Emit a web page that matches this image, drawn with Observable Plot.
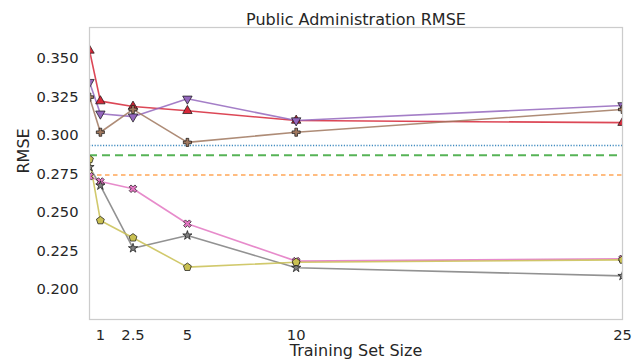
<!DOCTYPE html>
<html>
<head>
<meta charset="utf-8">
<script src="https://cdn.jsdelivr.net/npm/d3@7"></script>
<script src="https://cdn.jsdelivr.net/npm/@observablehq/plot@0.6"></script>
<style>
  html, body { margin: 0; padding: 0; background: #ffffff; }
</style>
</head>
<body>
<div id="chart"></div>
<script>
// Training set sizes (x positions of every model curve)
const trainingSizes = [0.5, 1, 2.5, 5, 10, 25];
const xTicks = [1, 2.5, 5, 10, 25];
const yTicks = [0.200, 0.225, 0.250, 0.275, 0.300, 0.325, 0.350];

// RMSE of each model per training set size
const rmseRed    = [0.3552, 0.3223, 0.3188, 0.3160, 0.3097, 0.3083];
const rmsePurple = [0.3346, 0.3141, 0.3122, 0.3238, 0.3097, 0.3195];
const rmseBrown  = [0.3249, 0.3021, 0.3169, 0.2955, 0.3021, 0.3169];
const rmsePink   = [0.2735, 0.2701, 0.2654, 0.2427, 0.2184, 0.2199];
const rmseGray   = [0.2795, 0.2675, 0.2268, 0.2351, 0.2141, 0.2088];
const rmseOlive  = [0.2845, 0.2448, 0.2336, 0.2145, 0.2177, 0.2192];

// Constant reference levels drawn as horizontal lines
const baselineBlue   = 0.2935;
const baselineGreen  = 0.2871;
const baselineOrange = 0.2743;

const titleText = "Public Administration RMSE";
const xLabel = "Training Set Size";
const yLabel = "RMSE";

// --- custom marker shapes -------------------------------------------------
const sqrt3 = Math.sqrt(3);
const triangleDown = {
  draw(ctx, size) {
    const y = -Math.sqrt(size / (sqrt3 * 3));
    ctx.moveTo(0, -y * 2);
    ctx.lineTo(-sqrt3 * y, y);
    ctx.lineTo(sqrt3 * y, y);
    ctx.closePath();
  }
};
const filledX = {
  draw(ctx, size) {
    const r = Math.sqrt(size / 5) / 2;
    const pts = [[-3*r,-r],[-r,-r],[-r,-3*r],[r,-3*r],[r,-r],[3*r,-r],
                 [3*r,r],[r,r],[r,3*r],[-r,3*r],[-r,r],[-3*r,r]];
    const c = Math.SQRT1_2;
    pts.forEach(([px, py], i) => {
      const qx = px * c - py * c, qy = px * c + py * c;
      if (i === 0) ctx.moveTo(qx, qy); else ctx.lineTo(qx, qy);
    });
    ctx.closePath();
  }
};
const pentagon = {
  draw(ctx, size) {
    const R = Math.sqrt(size / (2.5 * Math.sin(2 * Math.PI / 5)));
    for (let i = 0; i < 5; i++) {
      const a = -Math.PI / 2 + i * 2 * Math.PI / 5;
      const px = R * Math.cos(a), py = R * Math.sin(a);
      if (i === 0) ctx.moveTo(px, py); else ctx.lineTo(px, py);
    }
    ctx.closePath();
  }
};

const series = [
  {values: rmseRed,    color: "#d62738", symbol: "triangle",  r: 3.5},
  {values: rmsePurple, color: "#9467bd", symbol: triangleDown, r: 3.5},
  {values: rmseBrown,  color: "#a0785f", symbol: "cross",      r: 3.4},
  {values: rmsePink,   color: "#e377c2", symbol: filledX,      r: 3.4},
  {values: rmseGray,   color: "#7f7f7f", symbol: "star",       r: 2.9},
  {values: rmseOlive,  color: "#c9c052", symbol: pentagon,     r: 3.6}
];

const marks = [];

// horizontal reference levels
marks.push(Plot.ruleY([baselineBlue],   {stroke: "#1f77b4", strokeWidth: 1.5, strokeDasharray: "1.2,1.6", strokeOpacity: 0.85}));
marks.push(Plot.ruleY([baselineGreen],  {stroke: "#2ca02c", strokeWidth: 2,   strokeDasharray: "8,5",     strokeOpacity: 0.8}));
marks.push(Plot.ruleY([baselineOrange], {stroke: "#ff7f0e", strokeWidth: 1.5, strokeDasharray: "4.5,3.5", strokeOpacity: 0.7}));

// model curves with markers
for (const s of series) {
  const rows = trainingSizes.map((x, i) => ({x, y: s.values[i]}));
  marks.push(Plot.line(rows, {x: "x", y: "y", stroke: s.color, strokeWidth: 1.6, strokeOpacity: 0.85, clip: true}));
}
for (const s of series) {
  const rows = trainingSizes.map((x, i) => ({x, y: s.values[i]}));
  marks.push(Plot.dot(rows, {x: "x", y: "y", symbol: s.symbol, r: s.r, fill: s.color,
                             stroke: "#111", strokeWidth: 0.7, clip: true}));
}

marks.push(Plot.frame({stroke: "#cccccc", strokeWidth: 1.25}));

marks.push(Plot.axisX({ticks: xTicks, tickSize: 0, tickPadding: 10, tickFormat: d => String(d),
                       label: null, fontSize: 14.7}));
marks.push(Plot.axisY({ticks: yTicks, tickSize: 0, tickPadding: 11, tickFormat: d3.format(".3f"),
                       label: null, fontSize: 14.7}));

marks.push(Plot.text([titleText], {text: d => d, frameAnchor: "top", dy: -14, fontSize: 16}));
marks.push(Plot.text([xLabel], {text: d => d, frameAnchor: "bottom", dy: 36.5, fontSize: 16}));
marks.push(Plot.text([yLabel], {text: d => d, frameAnchor: "left", dx: -65.5, rotate: -90, fontSize: 16}));

const chart = Plot.plot({
  width: 632,
  height: 364,
  marginLeft: 89,
  marginRight: 10,
  marginTop: 27,
  marginBottom: 45,
  x: {type: "linear", domain: [0.5, 25]},
  y: {type: "linear", domain: [0.1805, 0.3701]},
  style: {fontFamily: "'DejaVu Sans', sans-serif", color: "#262626", background: "#ffffff", overflow: "visible"},
  marks
});
document.getElementById("chart").appendChild(chart);
</script>
</body>
</html>
